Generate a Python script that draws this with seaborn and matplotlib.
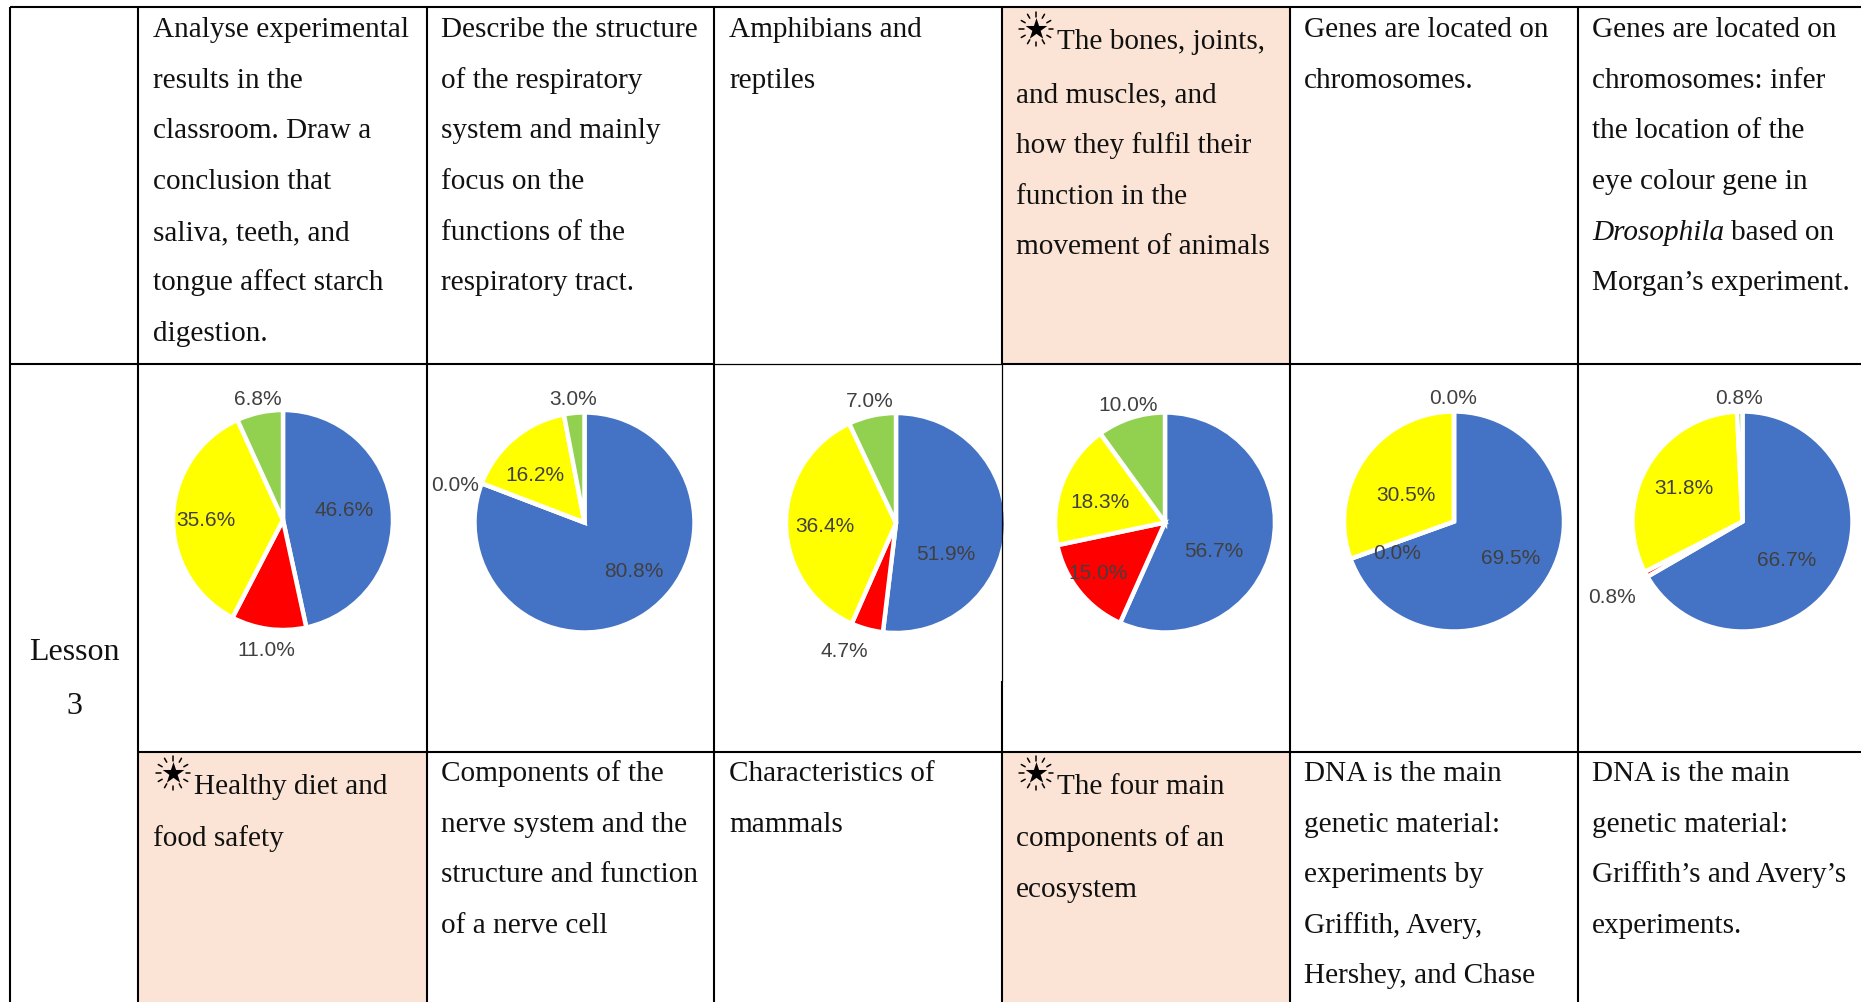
import math

import matplotlib
matplotlib.use("Agg")
import matplotlib.pyplot as plt
from matplotlib.transforms import Affine2D
import seaborn as sns

W, H = 1861, 1003

# Share of responses per lesson, clockwise from twelve o'clock
pie_values = [
    [46.6, 11.0, 35.6, 6.8],
    [80.8, 0.0, 16.2, 3.0],
    [51.9, 4.7, 36.4, 7.0],
    [56.7, 15.0, 18.3, 10.0],
    [69.5, 0.0, 30.5, 0.0],
    [66.7, 0.8, 31.8, 0.8],
]
pie_colors = ["#4472C4", "#FF0000", "#FFFF00", "#92D050"]

# Pie centres and label anchors, in pixels
pie_centres = [(283, 521), (584.5, 523.5), (896, 524), (1165, 523.5), (1454, 522.5), (1742.5, 522.5)]
pie_radius = 110
label_positions = [
    [(344, 510), (266, 650), (206, 520), (258, 399)],
    [(634, 571), (455, 485), (535, 475), (573, 399)],
    [(946, 554), (844, 651), (825, 526), (870, 401)],
    [(1214, 551), (1098, 573), (1100, 502), (1128, 405)],
    [(1511, 558), (1397, 553), (1406, 495), (1453, 398)],
    [(1787, 560), (1612, 597), (1684, 488), (1739, 398)],
]

# Cell text, one list per column
col_x = [153, 441, 729, 1016, 1304, 1592]
top_rows = [
    ["Analyse experimental", "results in the", "classroom. Draw a", "conclusion that",
     "saliva, teeth, and", "tongue affect starch", "digestion."],
    ["Describe the structure", "of the respiratory", "system and mainly", "focus on the",
     "functions of the", "respiratory tract."],
    ["Amphibians and", "reptiles"],
    ["The bones, joints,", "and muscles, and", "how they fulfil their", "function in the",
     "movement of animals"],
    ["Genes are located on", "chromosomes."],
    ["Genes are located on", "chromosomes: infer", "the location of the", "eye colour gene in",
     "", "Morgan\u2019s experiment."],
]
bottom_rows = [
    ["Healthy diet and", "food safety"],
    ["Components of the", "nerve system and the", "structure and function", "of a nerve cell"],
    ["Characteristics of", "mammals"],
    ["The four main", "components of an", "ecosystem"],
    ["DNA is the main", "genetic material:", "experiments by", "Griffith, Avery,", "Hershey, and Chase"],
    ["DNA is the main", "genetic material:", "Griffith\u2019s and Avery\u2019s", "experiments."],
]
top_baselines = [37, 88, 138, 189, 240, 290, 341]
bottom_baselines = [781, 832, 882, 933, 983]
star_top_baselines = [49, 102, 153, 204, 254]
star_bottom_baselines = [794, 846, 897]
row_label = ["Lesson", "3"]

sns.set_theme(style="white", rc={"font.family": ["Liberation Serif", "DejaVu Serif"]})
palette = sns.color_palette(pie_colors)

fig = plt.figure(figsize=(W / 100, H / 100), dpi=100, facecolor="white")
to_px = Affine2D().scale(1, -1).translate(0, H)

# Pies sit in their own square axes beneath the table rules
for values, (cx, cy) in zip(pie_values, pie_centres):
    pad = 1.04
    size = 2 * pie_radius * pad
    pie_ax = fig.add_axes([(cx - size / 2) / W, 1 - (cy + size / 2) / H, size / W, size / H], zorder=1)
    pie_ax.pie(values, colors=palette, startangle=90, counterclock=False, radius=1,
               wedgeprops={"edgecolor": "white", "linewidth": 3.2})
    pie_ax.set_xlim(-pad, pad)
    pie_ax.set_ylim(-pad, pad)

# Table layer in pixel coordinates
ax = fig.add_axes([0, 0, 1, 1], zorder=2)
ax.set_xlim(0, W)
ax.set_ylim(H, 0)
ax.axis("off")
ax.patch.set_alpha(0)

peach = "#FBE4D5"
row_top, row_mid, row_low = 8, 364.5, 752.5
ax.axvspan(1002, 1290, ymin=1 - row_mid / H, ymax=1 - row_top / H, color=peach, lw=0)
ax.axvspan(138, 427, ymin=0, ymax=1 - row_low / H, color=peach, lw=0)
ax.axvspan(1002, 1290, ymin=0, ymax=1 - row_low / H, color=peach, lw=0)

rule = {"color": "black", "lw": 1.5, "solid_capstyle": "butt"}
thin = {"color": "black", "lw": 0.9, "solid_capstyle": "butt"}
for x in [10, 138, 427, 714, 1290, 1578]:
    ax.plot([x, x], [row_top, H], **rule)
ax.plot([1002, 1002], [row_top, row_mid], **rule)
ax.plot([1002, 1002], [row_mid, 682], **thin)
ax.plot([1002, 1002], [682, H], **rule)
ax.plot([10, W], [row_top, row_top], **rule)
ax.plot([10, 714], [row_mid, row_mid], **rule)
ax.plot([714, 1002], [row_mid, row_mid], **thin)
ax.plot([1002, W], [row_mid, row_mid], **rule)
ax.plot([138, W], [row_low, row_low], **rule)


def star(x, y):
    """Black star with a ring of short rays."""
    ax.scatter([x], [y], marker="*", s=270, color="black", lw=0, zorder=5)
    for i in range(12):
        a = math.radians(30 * i - 90)
        ax.plot([x + 12.5 * math.cos(a), x + 17 * math.cos(a)],
                [y + 12.5 * math.sin(a), y + 17 * math.sin(a)], color="black", lw=1.1, zorder=5)


text_kw = {"fontsize": 21.1, "color": "#111111", "va": "baseline", "ha": "left"}
starred_top = {3}
starred_bottom = {0, 3}
for c, (x, lines) in enumerate(zip(col_x, top_rows)):
    bases = star_top_baselines if c in starred_top else top_baselines
    for i, (line, y) in enumerate(zip(lines, bases)):
        ax.text(x + (41 if c in starred_top and i == 0 else 0), y, line, **text_kw)
for c, (x, lines) in enumerate(zip(col_x, bottom_rows)):
    bases = star_bottom_baselines if c in starred_bottom else bottom_baselines
    for i, (line, y) in enumerate(zip(lines, bases)):
        ax.text(x + (41 if c in starred_bottom and i == 0 else 0), y, line, **text_kw)
star(1036, 30)
star(173, 774)
star(1036, 774)

# The line mixing italic and roman type
renderer = fig.canvas.get_renderer()
genus = ax.text(col_x[5], top_baselines[4], "Drosophila", style="italic", **text_kw)
right = genus.get_window_extent(renderer).x1
ax.text(right + 7, top_baselines[4], "based on", **text_kw)

for label, y in zip(row_label, [660, 714]):
    ax.text(74, y, label, fontsize=23, color="#111111", ha="center", va="baseline")

# Percentage labels drawn above everything else
for values, spots in zip(pie_values, label_positions):
    for v, (lx, ly) in zip(values, spots):
        fig.text(lx, ly + 1, f"{v:.1f}%", transform=to_px,
                 family="Liberation Sans", fontsize=15, color="#404040",
                 ha="center", va="center", zorder=6)

fig.savefig("out.png", dpi=100)
